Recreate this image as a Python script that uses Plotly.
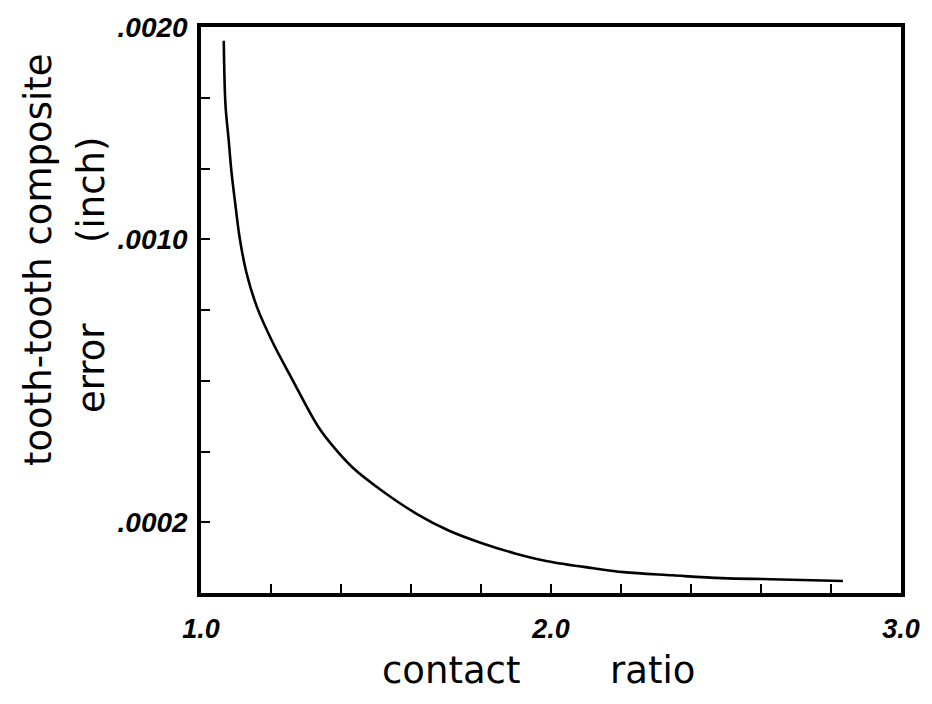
import numpy as np
import plotly.graph_objects as go

# contact ratio (x) and tooth-to-tooth composite error in inches (y)
contact_ratio = [1.065, 1.070, 1.079, 1.087, 1.098, 1.110, 1.129, 1.160, 1.205, 1.259,
                 1.335, 1.383, 1.433, 1.523, 1.616, 1.709, 1.805, 1.897, 1.990, 2.122,
                 2.207, 2.347, 2.488, 2.629, 2.834]
tt_error = [0.001935, 0.001632, 0.001469, 0.001319, 0.001166, 0.001012, 0.000909, 0.000808,
            0.000708, 0.000607, 0.000470, 0.000408, 0.000355, 0.000285, 0.000224, 0.000176,
            0.000140, 0.000112, 0.000090, 0.000070, 0.000059, 0.000050, 0.000042, 0.000039,
            0.000034]

# the drawn y scale is not uniform: equally spaced graduations carry these values
y_levels = [0.0, 0.0002, 0.0004, 0.0006, 0.0008, 0.0010, 0.0013333, 0.0016667, 0.0020]
y_labels = ["", ".0002", "", "", "", ".0010", "", "", ".0020"]

x_ticks = [1.0, 1.2, 1.4, 1.6, 1.8, 2.0, 2.2, 2.4, 2.6, 2.8, 3.0]
x_labels = ["1.0", "", "", "", "", "2.0", "", "", "", "", "3.0"]

y_grad = list(range(len(y_levels)))
y_plot = np.interp(tt_error, y_levels, y_grad)

fig = go.Figure()
fig.add_trace(go.Scatter(x=contact_ratio, y=y_plot, mode="lines",
                         line=dict(color="black", width=2.6, shape="spline", smoothing=1.0),
                         showlegend=False, hoverinfo="skip"))

fig.update_xaxes(range=[1.0, 3.0], showgrid=False, zeroline=False,
                 showline=True, linecolor="black", linewidth=3.5, mirror=True,
                 ticks="inside", ticklen=9, tickwidth=2, tickcolor="black",
                 tickvals=x_ticks, ticktext=[f"<b><i>{t}</i></b>" if t else "" for t in x_labels],
                 tickfont=dict(family="Liberation Sans", size=27, color="black"),
                 ticklabelstandoff=9)
fig.update_yaxes(range=[0, len(y_levels) - 1], showgrid=False, zeroline=False,
                 showline=True, linecolor="black", linewidth=3.5, mirror=True,
                 ticks="inside", ticklen=9, tickwidth=2, tickcolor="black",
                 tickvals=y_grad, ticktext=[f"<b><i>{t}</i></b>" if t else "" for t in y_labels],
                 tickfont=dict(family="Liberation Sans", size=28, color="black"),
                 ticklabelstandoff=4)

L, R, T, B = 201, 20, 21, 111
W, H = 932, 704
pw, ph = W - L - R, H - T - B

def px_x(p):
    return (p - L) / pw

def px_y(p):
    return (H - B - p) / ph

title_font = dict(family="DejaVu Sans", size=37, color="black")
ann = [
    dict(text="tooth-tooth composite", x=px_x(36), y=px_y(256), textangle=-90),
    dict(text="(inch)", x=px_x(90), y=px_y(186), textangle=-90),
    dict(text="error", x=px_x(90), y=px_y(366), textangle=-90),
    dict(text="contact", x=px_x(455), y=px_y(671), textangle=0),
    dict(text="ratio", x=px_x(660), y=px_y(671), textangle=0),
]
for a in ann:
    fig.add_annotation(xref="paper", yref="paper", showarrow=False,
                       xanchor="center", yanchor="middle", font=title_font, **a)

fig.update_layout(width=W, height=H, margin=dict(l=L, r=R, t=T, b=B),
                  plot_bgcolor="white", paper_bgcolor="white")
fig.write_html("out.html")
